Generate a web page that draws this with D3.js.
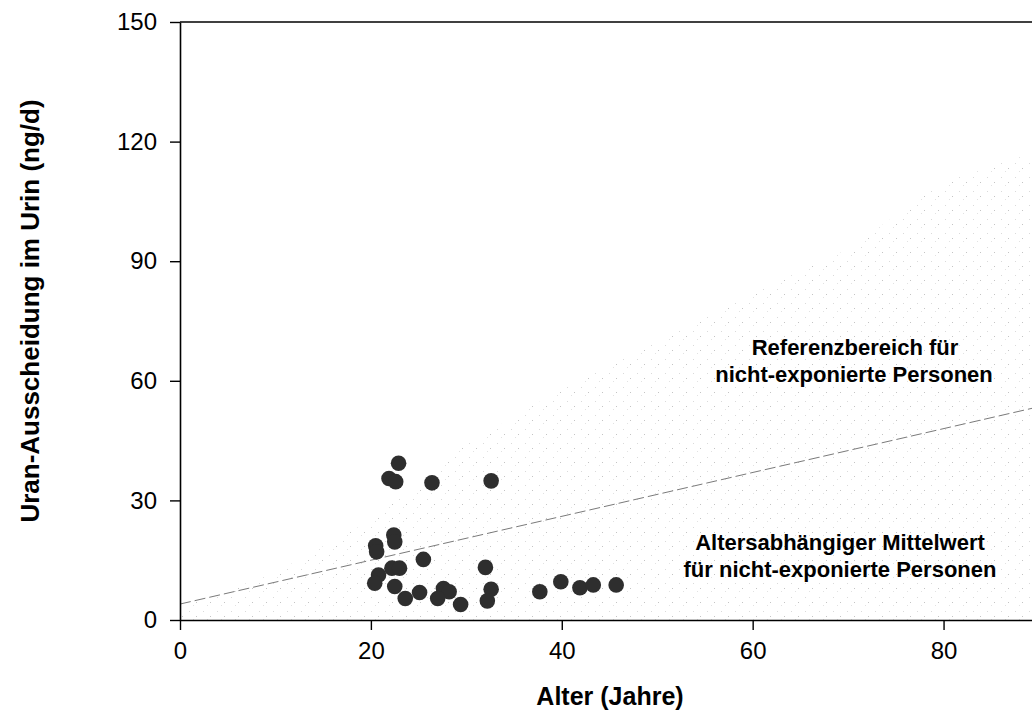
<!DOCTYPE html>
<html>
<head>
<meta charset="utf-8">
<script src="https://cdn.jsdelivr.net/npm/d3@7"></script>
<style>
  body { margin: 0; background: #fff; }
  text { font-family: "Liberation Sans", Arial, sans-serif; }
</style>
</head>
<body>
<div id="chart"></div>
<script>
// measured points: age (years) and uranium excretion (ng/d)
var ages = [22.9, 21.9, 22.6, 26.4, 32.6, 22.4, 22.5, 20.5, 20.6, 25.5, 32.0, 22.2, 23.0, 20.8, 20.4,
            22.5, 23.6, 25.1, 27.6, 28.2, 27.0, 29.4, 32.6, 32.2, 37.7, 39.9, 41.9, 43.3, 45.7]
var values = [39.3, 35.5, 34.7, 34.4, 34.9, 21.3, 19.6, 18.6, 17.1, 15.2, 13.2, 13.0, 13.0, 11.3, 9.2,
              8.4, 5.4, 6.9, 7.9, 7.1, 5.4, 3.9, 7.7, 4.8, 7.1, 9.6, 8.1, 8.8, 8.8]

// age dependent mean (dashed line)
var meanAges = [0, 90]
var meanValues = [4, 53.5]

// upper edge of the reference range (stippled area)
var refAges = [0, 10, 20, 30, 40, 50, 60, 70, 80, 90]
var refUpper = [3, 12, 25, 44, 58, 70, 82, 93, 110, 118]

var xTicks = [0, 20, 40, 60, 80]
var yTicks = [0, 30, 60, 90, 120, 150]

var W = 1032, H = 713
var margin = { top: 22, left: 180, bottom: 93 }
var plotBottom = H - margin.bottom

var svg = d3.select("#chart").append("svg")
    .attr("width", W)
    .attr("height", H)

var x = d3.scaleLinear().domain([0, 90]).range([180, 1039])
var y = d3.scaleLinear().domain([0, 150]).range([plotBottom, margin.top])

// stipple pattern for the reference area (very faint in the original)
var defs = svg.append("defs")
var pat = defs.append("pattern")
    .attr("id", "stip")
    .attr("patternUnits", "userSpaceOnUse")
    .attr("width", 14).attr("height", 14)
pat.append("rect").attr("x", 0).attr("y", 0).attr("width", 1).attr("height", 1).attr("fill", "#c4c4c4")
pat.append("rect").attr("x", 7).attr("y", 9).attr("width", 1).attr("height", 1).attr("fill", "#dadada")
pat.append("rect").attr("x", 11).attr("y", 3).attr("width", 1).attr("height", 1).attr("fill", "#e2e2e2")

var refData = refAges.map(function (a, i) { return { a: a, v: refUpper[i] } })
svg.append("path")
    .datum(refData)
    .attr("fill", "url(#stip)")
    .attr("d", d3.area()
        .x(function (d) { return x(d.a) })
        .y0(y(0))
        .y1(function (d) { return y(d.v) }))

// mean line
var meanData = meanAges.map(function (a, i) { return { a: a, v: meanValues[i] } })
svg.append("path")
    .datum(meanData)
    .attr("fill", "none")
    .attr("stroke", "#7a7a7a")
    .attr("stroke-width", 1)
    .attr("stroke-dasharray", "11,4")
    .attr("d", d3.line()
        .x(function (d) { return x(d.a) })
        .y(function (d) { return y(d.v) }))

// axes
var xAxis = svg.append("g")
    .attr("transform", "translate(0," + plotBottom + ")")
    .call(d3.axisBottom(x).tickValues(xTicks).tickSize(10).tickSizeOuter(0).tickPadding(12))
var yAxis = svg.append("g")
    .attr("transform", "translate(180,0)")
    .call(d3.axisLeft(y).tickValues(yTicks).tickSize(10).tickSizeOuter(0).tickPadding(13))

svg.selectAll(".domain").attr("stroke", "#000").attr("stroke-width", 1.6)
svg.selectAll(".tick line").attr("stroke", "#000").attr("stroke-width", 1.4)
svg.selectAll(".tick text")
    .attr("fill", "#000")
    .style("font-size", "24px")
    .style("font-family", "'Liberation Sans', Arial, sans-serif")

// top frame line
svg.append("line")
    .attr("x1", 180).attr("x2", W)
    .attr("y1", y(150)).attr("y2", y(150))
    .attr("stroke", "#000").attr("stroke-width", 1.6)

// points
svg.append("g")
    .selectAll("circle")
    .data(ages)
    .enter().append("circle")
    .attr("cx", function (d) { return x(d) })
    .attr("cy", function (d, i) { return y(values[i]) })
    .attr("r", 7.8)
    .attr("fill", "#2e2e2e")

// axis titles
svg.append("text")
    .attr("x", 610).attr("y", 705)
    .attr("text-anchor", "middle")
    .style("font-size", "25px").style("font-weight", "bold")
    .text("Alter (Jahre)")

svg.append("text")
    .attr("transform", "translate(39,311) rotate(-90)")
    .attr("text-anchor", "middle")
    .style("font-size", "26px").style("font-weight", "bold")
    .text("Uran-Ausscheidung im Urin (ng/d)")

// annotations
var notes = [
    { t: "Referenzbereich für", x: 855, y: 355 },
    { t: "nicht-exponierte Personen", x: 854, y: 382 },
    { t: "Altersabhängiger Mittelwert", x: 840, y: 550 },
    { t: "für nicht-exponierte Personen", x: 840, y: 577 }
]
svg.selectAll(".note")
    .data(notes)
    .enter().append("text")
    .attr("class", "note")
    .attr("x", function (d) { return d.x })
    .attr("y", function (d) { return d.y })
    .attr("text-anchor", "middle")
    .style("font-size", "22px").style("font-weight", "bold")
    .text(function (d) { return d.t })
</script>
</body>
</html>
